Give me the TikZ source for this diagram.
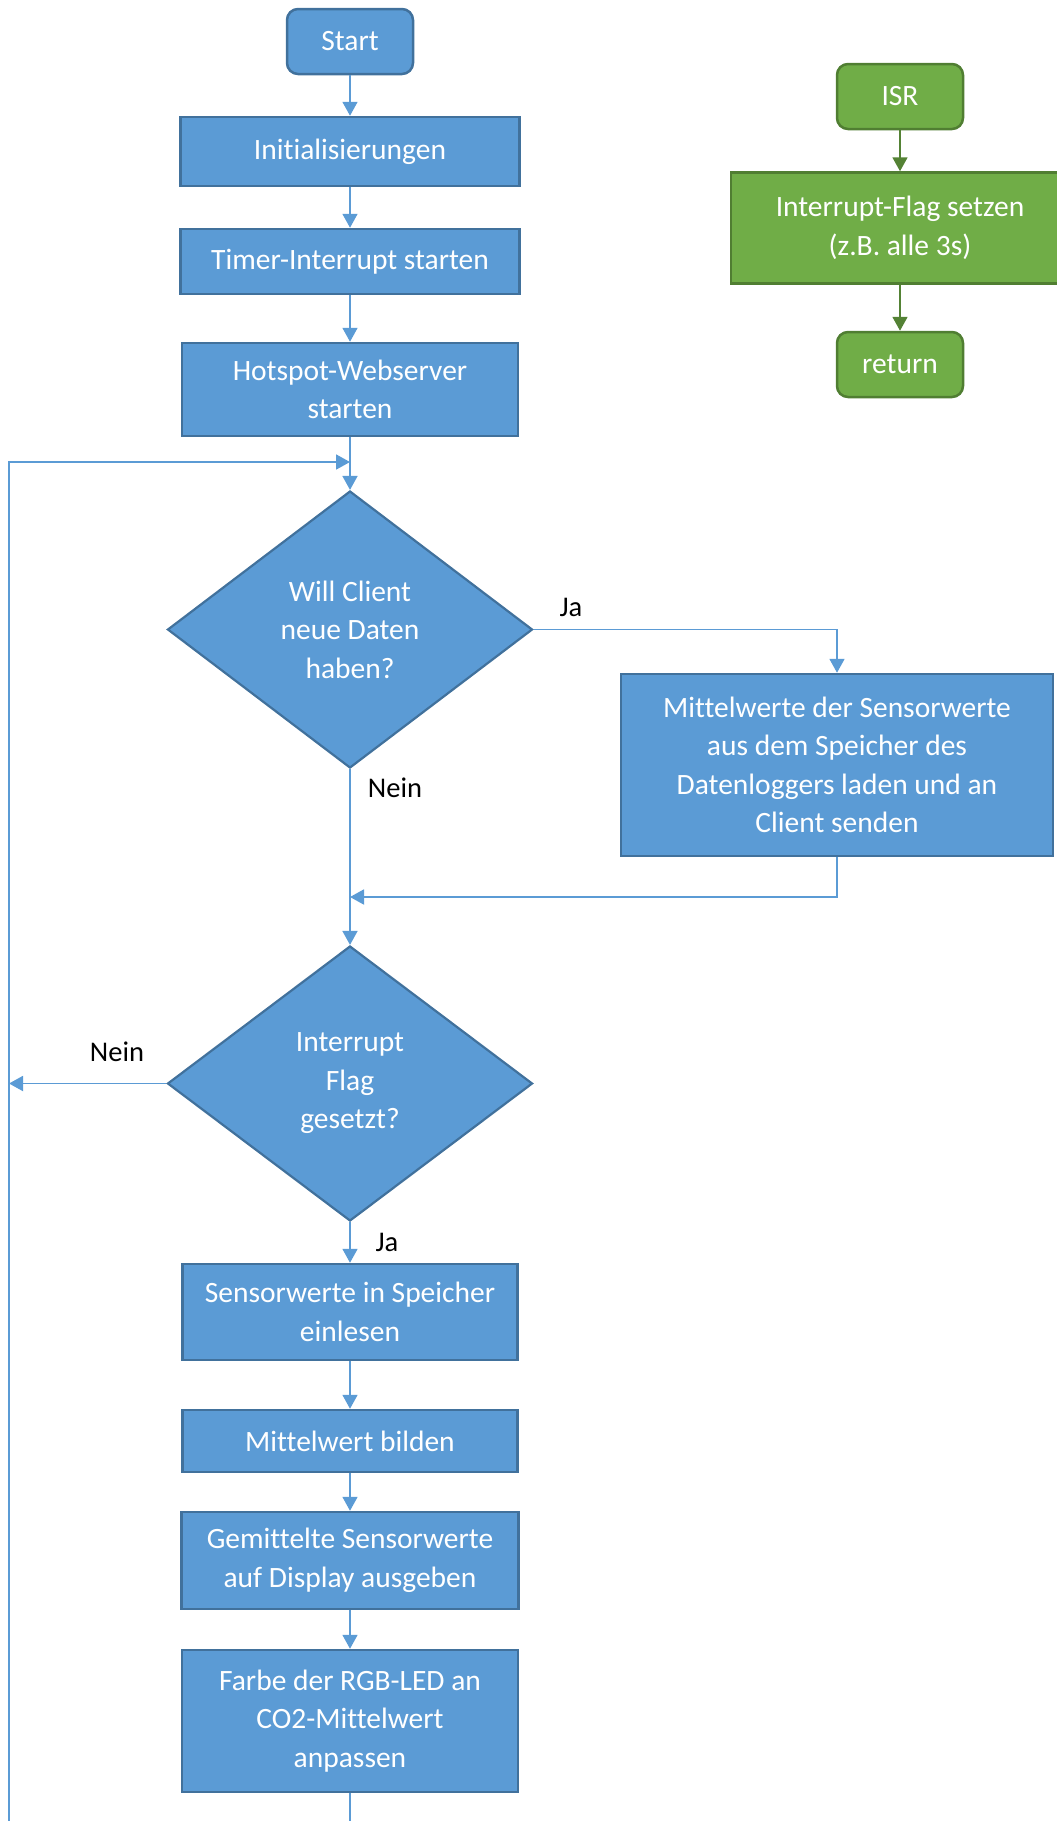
\documentclass[tikz,border=0pt]{standalone}
\usepackage{fontspec}
\setmainfont{Carlito}[Ligatures={NoCommon}]
\usetikzlibrary{shapes.geometric,arrows.meta}
\definecolor{bfill}{HTML}{5B9BD5}
\definecolor{bdraw}{HTML}{41719C}
\definecolor{gfill}{HTML}{70AD47}
\definecolor{gdraw}{HTML}{507E32}
\definecolor{gline}{HTML}{548235}
\begin{document}
\begin{tikzpicture}[x=1pt,y=-1pt,
  txt/.style={font=\fontsize{29.5}{38.5}\selectfont},
  lbltxt/.style={font=\fontsize{28.5}{38.5}\selectfont},
  proc/.style={draw=bdraw, fill=bfill, line width=2.5pt, text=white, align=center, inner sep=0pt, txt},
  term/.style={proc, rounded corners=11pt},
  dec/.style={diamond, draw=bdraw, fill=bfill, line width=2.2pt, text=white, align=center, inner sep=0pt, aspect=1.318, txt},
  gproc/.style={draw=gdraw, fill=gfill, line width=2.5pt, text=white, align=center, inner sep=0pt, txt},
  gterm/.style={gproc, rounded corners=11pt},
  conn/.style={draw=bfill, line width=1.8pt, -{Triangle[width=15pt,length=14pt]}},
  plain/.style={draw=bfill, line width=1.8pt},
  gconn/.style={draw=gline, line width=1.8pt, -{Triangle[width=15pt,length=14pt]}},
  lbl/.style={lbltxt, text=black, inner sep=0pt}
]
\useasboundingbox (0,0) rectangle (1057,1821);
\clip (0,0) rectangle (1057,1821);

% main column
\node[term, minimum width=126pt, minimum height=65pt] (start) at (350,41.5) {Start};
\node[proc, minimum width=339pt, minimum height=69pt] (init) at (350,151.5) {Initialisierungen};
\node[proc, minimum width=339pt, minimum height=65pt] (timer) at (350,261.5) {Timer-Interrupt starten};
\node[proc, minimum width=336pt, minimum height=93pt] (hot) at (350,389.5) {Hotspot-Webserver\\starten};
\node[dec, minimum width=365pt, minimum height=277pt] (d1) at (350,629.5) {Will Client\\neue Daten\\haben?};
\node[proc, minimum width=432pt, minimum height=182pt] (mittel) at (837,765) {Mittelwerte der Sensorwerte\\aus dem Speicher des\\Datenloggers laden und an\\Client senden};
\node[dec, minimum width=365pt, minimum height=275pt] (d2) at (350,1083.5) {Interrupt\\Flag\\gesetzt?};
\node[proc, minimum width=335pt, minimum height=96pt] (sensor) at (350,1312) {Sensorwerte in Speicher\\einlesen};
\node[proc, minimum width=335pt, minimum height=62pt] (bilden) at (350,1441) {Mittelwert bilden};
\node[proc, minimum width=337pt, minimum height=97pt] (gem) at (350,1560.5) {Gemittelte Sensorwerte\\auf Display ausgeben};
\node[proc, minimum width=336pt, minimum height=142pt] (farbe) at (350,1721) {Farbe der RGB-LED an\\CO2-Mittelwert\\anpassen};

% ISR column
\node[gterm, minimum width=126pt, minimum height=65pt] (isr) at (900,96.5) {ISR};
\node[gproc, minimum width=338pt, minimum height=111pt] (flag) at (900,228) {Interrupt-Flag setzen\\(z.B. alle 3s)};
\node[gterm, minimum width=126pt, minimum height=65pt] (ret) at (900,364.5) {return};

% coordinates
\coordinate (loopin) at (350,462);
\coordinate (lc) at (9,462);
\coordinate (bl) at (9,1821);
\coordinate (bot) at (350,1821);
\coordinate (merge) at (350,897);
\coordinate (nl) at (9,1083.5);

% connectors
\draw[conn] (start) -- (init);
\draw[conn] (init) -- (timer);
\draw[conn] (timer) -- (hot);
\draw[conn] (hot) -- (d1);
\draw[conn] (bl) -- (lc) -- (loopin);
\draw[conn] (d1.east) -| (mittel.north);
\draw[conn] (mittel.south) |- (merge);
\draw[conn] (d1) -- (d2);
\draw[conn] (d2.west) -- (nl);
\draw[conn] (d2) -- (sensor);
\draw[conn] (sensor) -- (bilden);
\draw[conn] (bilden) -- (gem);
\draw[conn] (gem) -- (farbe);
\draw[plain] (farbe) -- (bot);

\draw[gconn] (isr) -- (flag);
\draw[gconn] (flag) -- (ret);

% labels
\node[lbl] (ja1) at (571,607) {Ja};
\node[lbl] (nein1) at (395,787.5) {Nein};
\node[lbl] (nein2) at (117,1052) {Nein};
\node[lbl] (ja2) at (387,1242) {Ja};
\end{tikzpicture}
\end{document}
